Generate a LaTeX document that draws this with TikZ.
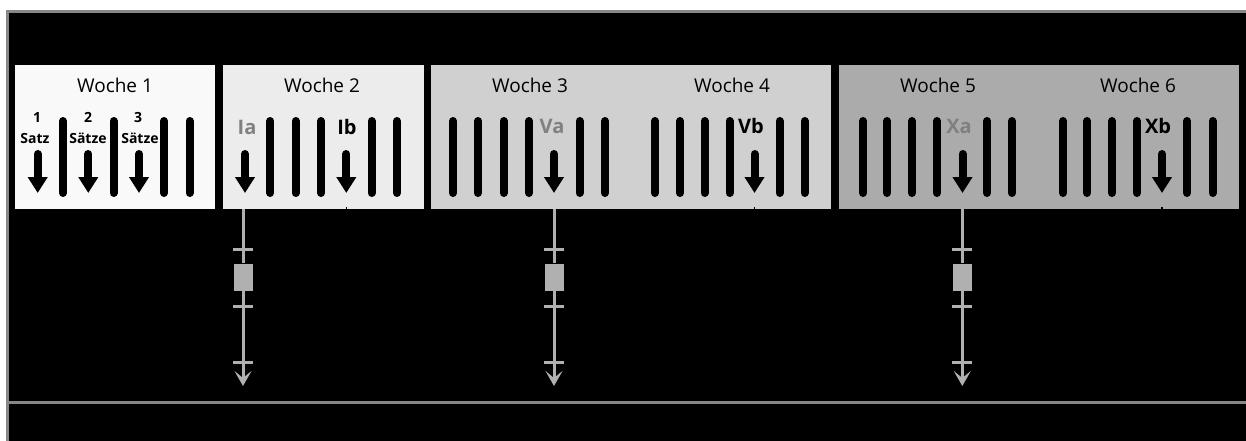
\documentclass[tikz,border=0pt]{standalone}
\usepackage{fontspec}
\setmainfont{Open Sans}
\usetikzlibrary{arrows.meta}
\definecolor{framegray}{gray}{0.53}
\definecolor{wkA}{gray}{0.975}
\definecolor{wkB}{gray}{0.925}
\definecolor{wkC}{gray}{0.815}
\definecolor{wkD}{gray}{0.67}
\definecolor{labgray}{gray}{0.5}
\definecolor{conngray}{gray}{0.69}
\tikzset{
  weekbox/.style={draw=none, minimum height=144pt, anchor=north west, inner sep=0pt},
  weeklabel/.style={anchor=base, font=\fontsize{19}{21}\selectfont},
  setlabel/.style={anchor=base, font=\fontsize{14}{16}\selectfont\bfseries},
  keylabel/.style={anchor=base, font=\fontsize{20}{22}\selectfont\bfseries},
  bar/.style={line width=8pt, line cap=round},
  setarrow/.style={line width=8pt, line cap=round, -{Triangle[length=16pt,width=19pt]}},
  link/.style={conngray, line width=3pt},
  linkarrow/.style={link, -{Stealth[length=15pt,width=17pt,inset=7pt]}},
  tick/.style={conngray, line width=3pt},
  block/.style={fill=conngray, draw=none, minimum width=19pt, minimum height=27pt, inner sep=0pt},
  hidden/.style={black, line width=1.5pt}
}
\begin{document}
\begin{tikzpicture}[x=1pt,y=-1pt]
\useasboundingbox (0,0) rectangle (1246,441);
\fill[white] (0,0) rectangle (1246,441);
\fill[black] (7,11) rectangle (1246,441);
% outer frame and base line
\draw[framegray, line width=3pt] (7.5,441) -- (7.5,11.5) -- (1246,11.5);
\draw[framegray, line width=3pt] (7,402) -- (1246,402);

% week panels
\node[weekbox, fill=wkA, minimum width=200pt] (b1) at (15,65) {};
\node[weekbox, fill=wkB, minimum width=201pt] (b2) at (223,65) {};
\node[weekbox, fill=wkC, minimum width=400pt] (b3) at (431,65) {};
\node[weekbox, fill=wkD, minimum width=400pt] (b4) at (839,65) {};

\node[weeklabel] (t1) at (115,93) {Woche 1};
\node[weeklabel] (t2) at (322,93) {Woche 2};
\node[weeklabel] (t3) at (530,93) {Woche 3};
\node[weeklabel] (t4) at (732,93) {Woche 4};
\node[weeklabel] (t5) at (938,93) {Woche 5};
\node[weeklabel] (t6) at (1138,93) {Woche 6};

% week 1: sets
\foreach \x in {63,113.6,164,189.5} \draw[bar] (\x,121) -- (\x,193);
\foreach \x in {37.7,88.3,139} \draw[setarrow] (\x,154) -- (\x,193);
\node[setlabel] (n1) at (37,122) {1};
\node[setlabel] (s1) at (35,143) {Satz};
\node[setlabel] (n2) at (88,122) {2};
\node[setlabel] (s2) at (88,143) {Sätze};
\node[setlabel] (n3) at (138,122) {3};
\node[setlabel] (s3) at (140,143) {Sätze};

% week 2
\foreach \x in {270.3,295.6,321,371.6,397} \draw[bar] (\x,121) -- (\x,193);
\foreach \x in {245,346.3} \draw[setarrow] (\x,154) -- (\x,193);
\node[keylabel, text=labgray] (ia) at (247,134) {Ia};
\node[keylabel] (ib) at (347,134) {Ib};

% weeks 3 and 4
\foreach \x in {453,478,503.5,529,579.5,605, 655,680,704.5,729.5,779.5,804.5} \draw[bar] (\x,121) -- (\x,193);
\foreach \x in {554,754.5} \draw[setarrow] (\x,154) -- (\x,193);
\node[keylabel, text=labgray] (va) at (552,133) {Va};
\node[keylabel] (vb) at (751,133) {Vb};

% weeks 5 and 6
\foreach \x in {863,887,912,937,987,1012, 1063,1087,1112,1137,1187,1212.5} \draw[bar] (\x,121) -- (\x,193);
\foreach \x in {962.5,1162} \draw[setarrow] (\x,154) -- (\x,193);
\node[keylabel, text=labgray] (xa) at (959,133) {Xa};
\node[keylabel] (xb) at (1158,133) {Xb};

% links below the a-sessions
\foreach \x/\n/\b in {243/ia/b2, 554/va/b3, 962.3/xa/b4} {
  \coordinate (\n-end) at (\x,386);
  \node[block] (\n-blk) at (\x,277) {};
  \draw[link] (\b.south -| \n-end) -- (\n-blk.north);
  \draw[linkarrow] (\n-blk.south) -- (\n-end);
  \foreach \y in {249,306,362} \draw[tick] (\x-10,\y) -- (\x+10,\y);
}

% links below the b-sessions
\foreach \x/\n/\b in {346.5/ib/b2, 754.5/vb/b3, 1162/xb/b4} {
  \coordinate (\n-end) at (\x,400);
  \draw[hidden] ([yshift=2pt]\b.south -| \n-end) -- (\n-end);
}
\end{tikzpicture}
\end{document}
